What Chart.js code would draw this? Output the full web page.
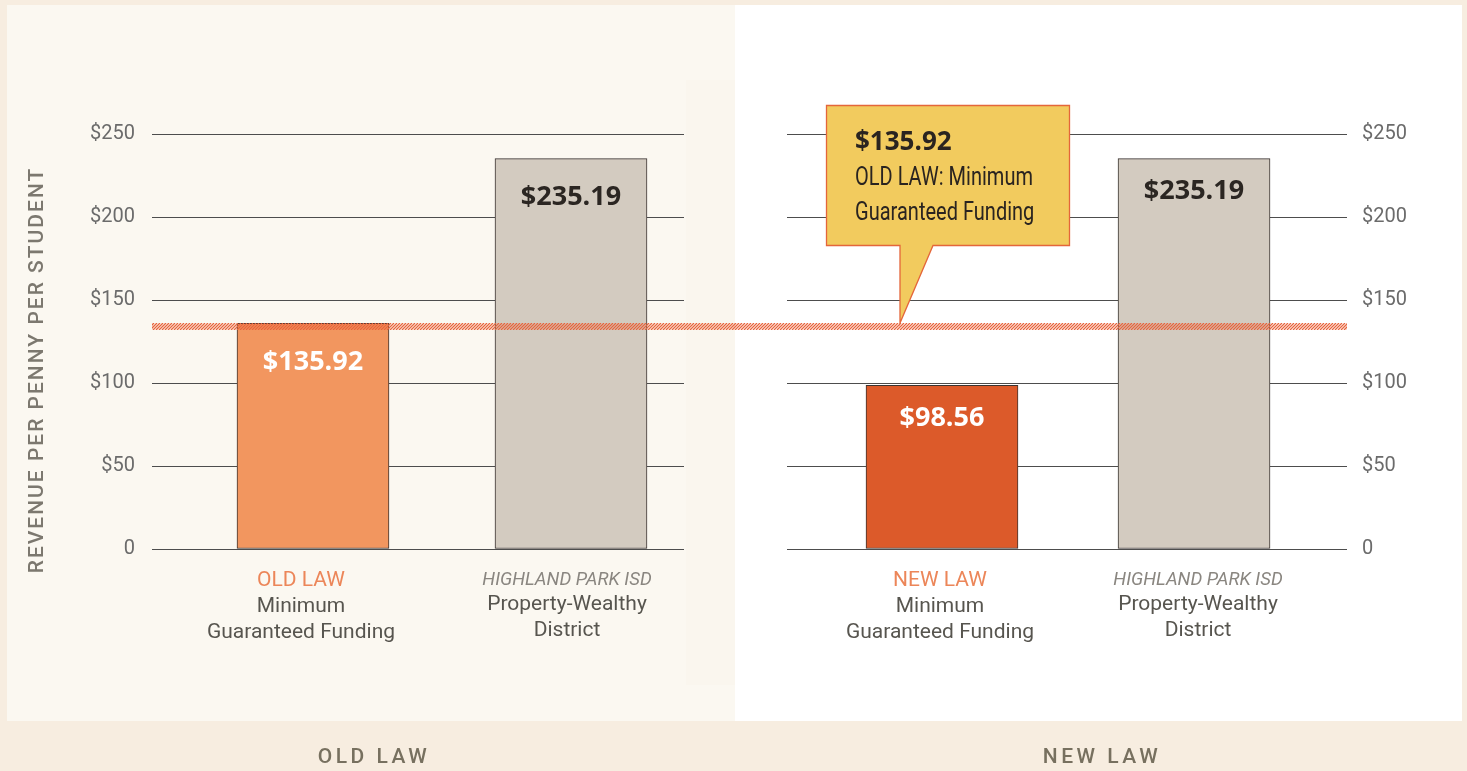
<!DOCTYPE html>
<html><head><meta charset="utf-8">
<script src="https://cdn.jsdelivr.net/npm/chart.js@4"></script>
<style>
html,body{margin:0;padding:0;}
body{width:1467px;height:771px;background:#f7ede0;position:relative;overflow:hidden;font-family:Roboto,sans-serif;}
#lp{position:absolute;left:7px;top:5px;width:728px;height:716px;background:#fbf8f1;}
#rp{position:absolute;left:735px;top:5px;width:727px;height:716px;background:#ffffff;}
#sp{position:absolute;left:686px;top:80px;width:49px;height:605px;background:#faf6ee;}
#w1{position:absolute;left:0;top:0;width:735px;height:771px;}
#w2{position:absolute;left:735px;top:0;width:732px;height:771px;}
.bl{position:absolute;top:744px;font:500 21px Roboto,sans-serif;letter-spacing:3.5px;color:#77705f;transform:translateX(-50%);white-space:nowrap;}
</style>
</head><body>
<div id="lp"></div><div id="rp"></div><div id="sp"></div>
<div id="w1"><canvas id="c1" width="735" height="771"></canvas></div>
<div id="w2"><canvas id="c2" width="732" height="771"></canvas></div>
<div class="bl" id="t1" style="left:374px"></div>
<div class="bl" id="t2" style="left:1102px"></div>
<script>
// ---- data ----
const panelTitles = ['OLD LAW', 'NEW LAW'];
const yAxisTitle = 'REVENUE PER PENNY PER STUDENT';
const yTicks = [0, 50, 100, 150, 200, 250];
const oldLawTags = ['OLD LAW', 'HIGHLAND PARK ISD'];
const oldLawNames = [['Minimum', 'Guaranteed Funding'], ['Property-Wealthy', 'District']];
const oldLawValues = [135.92, 235.19];
const newLawTags = ['NEW LAW', 'HIGHLAND PARK ISD'];
const newLawNames = [['Minimum', 'Guaranteed Funding'], ['Property-Wealthy', 'District']];
const newLawValues = [98.56, 235.19];
const minimumGuarantee = 135.92;
const calloutLines = ['$135.92', 'OLD LAW: Minimum', 'Guaranteed Funding'];

document.getElementById('t1').textContent = panelTitles[0];
document.getElementById('t2').textContent = panelTitles[1];

const fmt = v => '$' + v.toFixed(2);

function hatch(chart, x0, x1) {
  const ys = chart.scales.y;
  const y0 = Math.round(ys.getPixelForValue(minimumGuarantee));
  const h = 7;
  const ctx = chart.ctx;
  ctx.save();
  ctx.beginPath(); ctx.rect(x0, y0, x1 - x0, h); ctx.clip();
  ctx.strokeStyle = '#e8643c'; ctx.lineWidth = 1.3;
  ctx.beginPath();
  const off = chart.canvas.id === 'c2' ? 735 : 0;
  for (let x = x0 - 12 - ((x0 + off) % 3); x < x1 + 12; x += 3) {
    ctx.moveTo(x, y0 + h); ctx.lineTo(x + h, y0);
  }
  ctx.stroke();
  ctx.restore();
}

function narrowText(ctx, text, x, y, sx) {
  ctx.save();
  ctx.translate(x, y); ctx.scale(sx, 1);
  ctx.fillText(text, 0, 0);
  ctx.restore();
}

const decor = {
  id: 'decor',
  afterDatasetsDraw(chart, args, opts) {
    const ctx = chart.ctx;
    const meta = chart.getDatasetMeta(0);
    const xs = chart.scales.x;
    // value labels
    meta.data.forEach((bar, i) => {
      ctx.save();
      ctx.font = 'bold 27px "Open Sans", sans-serif';
      ctx.textAlign = 'center'; ctx.textBaseline = 'middle';
      ctx.fillStyle = opts.labelColors[i];
      ctx.fillText(fmt(opts.values[i]), bar.x, bar.y + opts.valueDy);
      ctx.restore();
    });
    // category labels
    opts.tags.forEach((tag, i) => {
      const x = xs.getPixelForValue(i) + opts.labelDx[i];
      ctx.save();
      ctx.textAlign = 'center'; ctx.textBaseline = 'middle';
      if (i === 0) { ctx.font = '21px Roboto, sans-serif'; ctx.fillStyle = '#ec8659'; }
      else { ctx.font = 'italic 18.5px Roboto, sans-serif'; ctx.fillStyle = '#8a8680'; }
      ctx.fillText(tag, x, i === 0 ? 581 : 580);
      ctx.font = '21px Roboto, sans-serif'; ctx.fillStyle = '#57554f';
      opts.names[i].forEach((ln, k) => ctx.fillText(ln, x, (i === 0 ? 607 : 605) + k * 25.5));
      ctx.restore();
    });
    // hatch line
    if (opts.side === 'left') hatch(chart, chart.chartArea.left, chart.width);
    else hatch(chart, 0, chart.chartArea.right);
    if (opts.side === 'left') {
      // y title
      ctx.save();
      ctx.translate(38, 371); ctx.rotate(-Math.PI / 2);
      ctx.font = '500 21px Roboto, sans-serif';
      ctx.letterSpacing = '2px';
      ctx.fillStyle = '#7c786f'; ctx.textAlign = 'center'; ctx.textBaseline = 'middle';
      ctx.fillText(yAxisTitle, 1, 0);
      ctx.restore();
    } else {
      // callout
      const ys = chart.scales.y;
      const tipY = Math.round(ys.getPixelForValue(minimumGuarantee));
      const L = 91.5, T = 105.5, R = 334.5, B = 245.5;
      ctx.save();
      ctx.beginPath();
      ctx.moveTo(L, T); ctx.lineTo(R, T); ctx.lineTo(R, B);
      ctx.lineTo(198, B); ctx.lineTo(165, tipY); ctx.lineTo(165, B);
      ctx.lineTo(L, B); ctx.closePath();
      ctx.fillStyle = '#f2cb5e'; ctx.fill();
      ctx.strokeStyle = '#e4663a'; ctx.lineWidth = 1.3; ctx.stroke();
      ctx.fillStyle = '#2a2420'; ctx.textAlign = 'left'; ctx.textBaseline = 'alphabetic';
      ctx.font = 'bold 26px "Open Sans", sans-serif';
      ctx.fillText(calloutLines[0], 120, 150);
      ctx.font = '26px Roboto, sans-serif';
      const sx = 178 / ctx.measureText(calloutLines[1]).width;
      narrowText(ctx, calloutLines[1], 120, 185, sx);
      narrowText(ctx, calloutLines[2], 120, 220, sx);
      ctx.restore();
    }
  }
};

function makeChart(id, values, tags, names, colors, labelColors, side, xmin, xmax, valueDy, labelDx) {
  return new Chart(document.getElementById(id), {
    type: 'bar',
    data: {
      datasets: [{
        data: values.map((v, i) => ({ x: i, y: v })),
        backgroundColor: colors,
        borderColor: '#3a3330',
        borderWidth: 1,
        borderSkipped: false,
        barThickness: 152
      }]
    },
    options: {
      responsive: false,
      animation: false,
      events: [],
      layout: { padding: side === 'left' ? { top: 134, bottom: 222, left: 0, right: 51 } : { top: 134, bottom: 222, left: 52, right: 0 } },
      plugins: { legend: { display: false }, tooltip: { enabled: false }, decor: { values, tags, names, labelColors, side, valueDy, labelDx } },
      scales: {
        x: { type: 'linear', display: false, offset: false, bounds: 'data', min: xmin, max: xmax, grace: 0 },
        y: {
          position: side,
          min: 0, max: 250,
          afterFit(s) { s.width = side === 'left' ? 152 : 120; },
          afterBuildTicks(s) { s.ticks = yTicks.map(v => ({ value: v })); },
          grid: { color: '#4d4d4d', lineWidth: 1, drawTicks: false },
          border: { display: false },
          ticks: {
            padding: side === 'left' ? 17 : 15,
            color: '#6b6b6b',
            font: { family: 'Roboto', size: 20 },
            callback: v => v === 0 ? '0' : '$' + v
          }
        }
      }
    },
    plugins: [decor]
  });
}

makeChart('c1', oldLawValues, oldLawTags, oldLawNames, ['#f2965f', '#d3cbc0'], ['#ffffff', '#2b2622'], 'left', -0.624, 1.438, 39, [-12, -4]);
makeChart('c2', newLawValues, newLawTags, newLawNames, ['#dc5a2a', '#d3cbc0'], ['#ffffff', '#2b2622'], 'right', -0.615, 1.607, 33, [-2, 4]);
</script>
</body></html>
